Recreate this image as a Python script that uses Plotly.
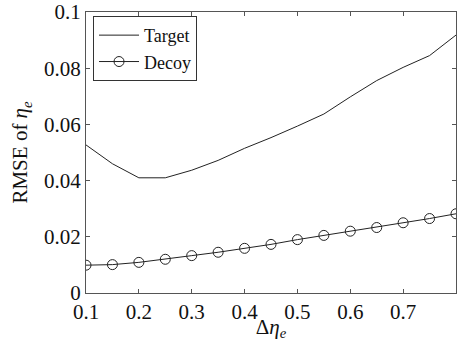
import plotly.graph_objects as go

x_vals = [0.1, 0.15, 0.2, 0.25, 0.3, 0.35, 0.4, 0.45, 0.5, 0.55, 0.6, 0.65, 0.7, 0.75, 0.8]
target = [0.0527, 0.046, 0.041, 0.041, 0.0437, 0.0472, 0.0515, 0.0553, 0.0594, 0.0637, 0.0698, 0.0756, 0.0803, 0.0845, 0.0918]
decoy = [0.0099, 0.0101, 0.0109, 0.0120, 0.0133, 0.0145, 0.0159, 0.0173, 0.0190, 0.0205, 0.0220, 0.0233, 0.0250, 0.0265, 0.0282]
x_ticks = [0.1, 0.2, 0.3, 0.4, 0.5, 0.6, 0.7]
x_tick_text = ["0.1", "0.2", "0.3", "0.4", "0.5", "0.6", "0.7"]
y_ticks = [0, 0.02, 0.04, 0.06, 0.08, 0.1]
y_tick_text = ["0", "0.02", "0.04", "0.06", "0.08", "0.1"]

font = dict(family="Liberation Serif", size=21, color="#111")
legend_font = dict(family="Liberation Serif", size=18, color="#111")

fig = go.Figure()
fig.add_trace(go.Scatter(x=x_vals, y=target, mode="lines", name="Target",
                         line=dict(color="#222", width=1)))
fig.add_trace(go.Scatter(x=x_vals, y=decoy, mode="lines+markers", name="Decoy",
                         line=dict(color="#222", width=1),
                         marker=dict(symbol="circle-open", size=10, color="#222",
                                     line=dict(width=1, color="#222"))))

axis_common = dict(showline=True, linecolor="#555", linewidth=1, mirror="ticks",
                   ticks="inside", ticklen=4, tickcolor="#555", showgrid=False,
                   zeroline=False, tickfont=font, ticklabeloverflow="allow")

fig.update_xaxes(range=[0.1, 0.8], tickvals=x_ticks, ticktext=x_tick_text,
                 title=dict(text="Δ<i>η<sub>e</sub></i>", font=font, standoff=0),
                 **axis_common)
fig.update_yaxes(range=[0, 0.10001], tickvals=y_ticks, ticktext=y_tick_text,
                 title=dict(text="RMSE of <i>η<sub>e</sub></i>", font=font, standoff=10),
                 **axis_common)

fig.update_layout(
    width=457, height=341,
    margin=dict(l=86, r=1, t=12, b=48),
    paper_bgcolor="white", plot_bgcolor="white",
    font=font,
    showlegend=True,
    legend=dict(x=0.019, y=0.986, xanchor="left", yanchor="top",
                bgcolor="white", bordercolor="#333", borderwidth=1,
                font=legend_font, itemwidth=40, tracegroupgap=0),
)

fig.write_html("out.html", config={"displayModeBar": False},
               post_script="document.body.style.margin='0';document.body.style.overflow='hidden';")
